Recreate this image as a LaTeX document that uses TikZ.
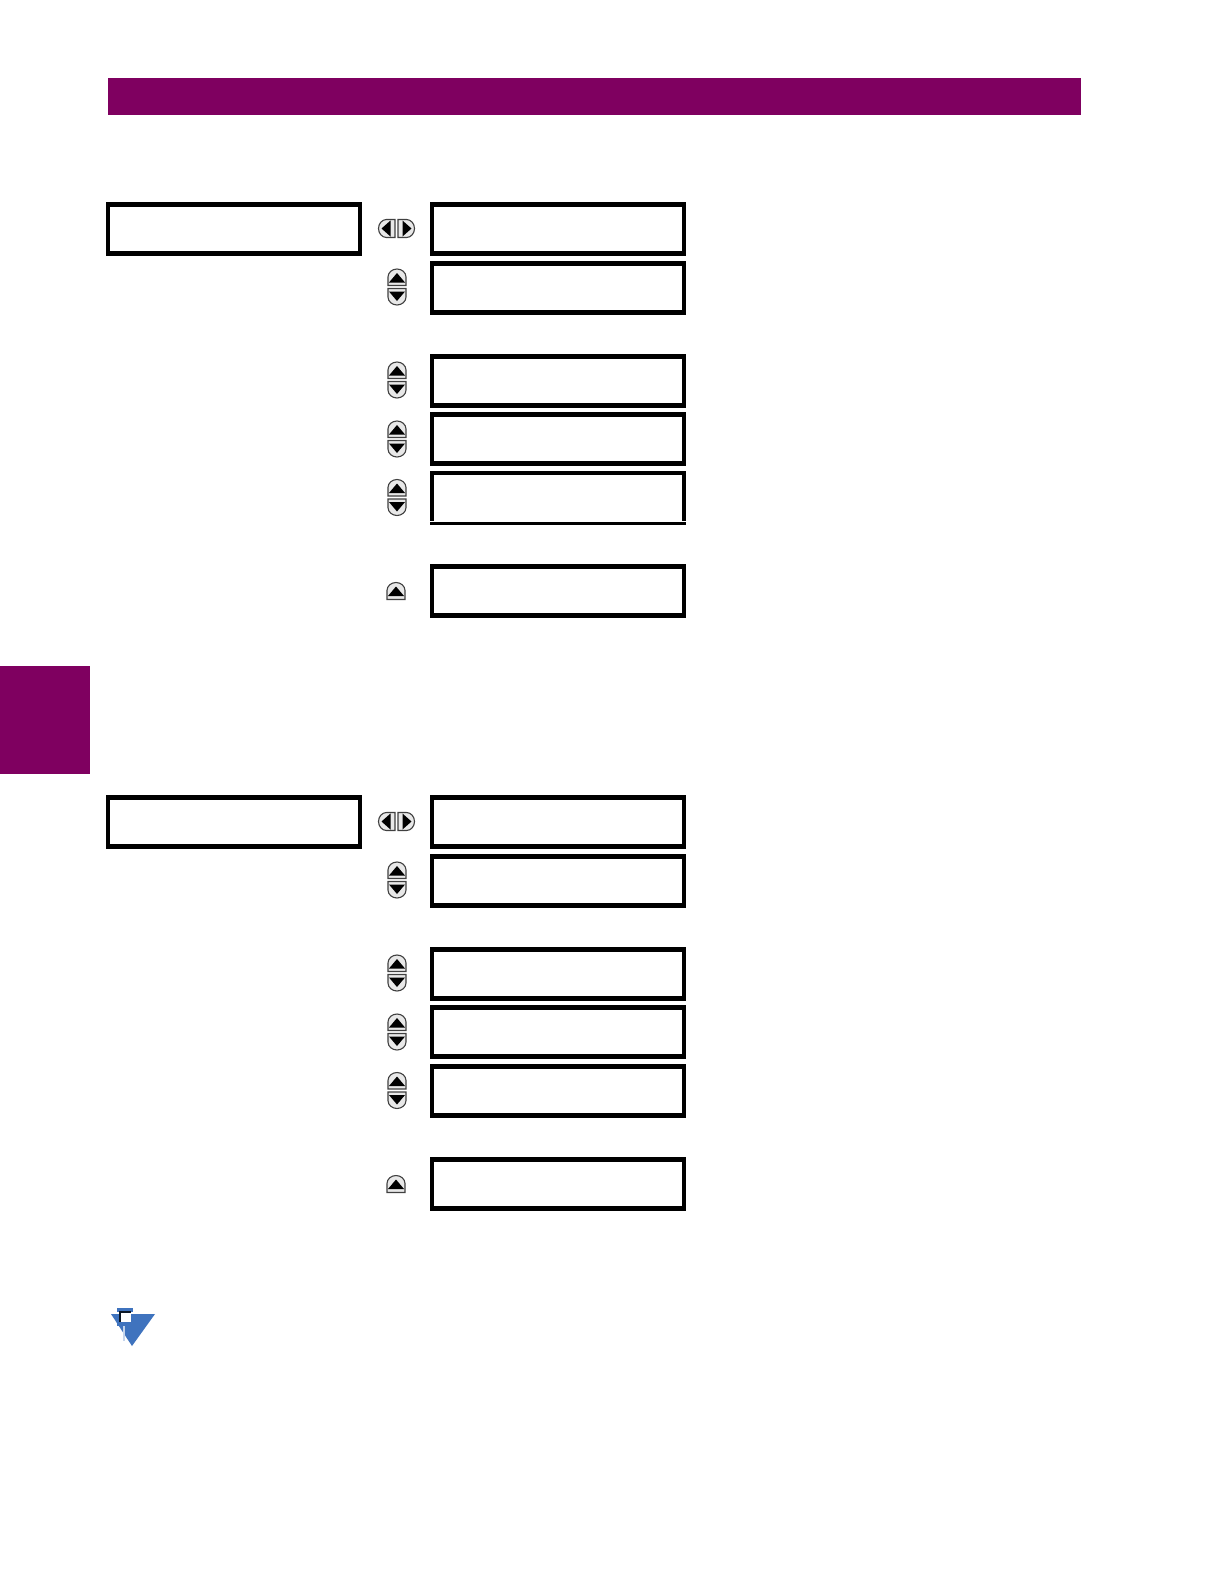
\documentclass[tikz,border=0pt]{standalone}
\definecolor{band}{HTML}{7F0060}
\definecolor{keygray}{HTML}{E8E8E8}
\definecolor{pinblue}{HTML}{3F73BE}
\tikzset{
  lcd/.style={draw=black,line width=2.2bp,fill=white,minimum width=126bp,minimum height=24.5bp,inner sep=0pt,outer sep=0pt,anchor=north west},
  key/.style={fill=keygray,draw=black!75,line width=.55bp},
  tri/.style={fill=black,draw=none},
  pics/updown/.style={code={
    \draw[key] (-9,-1.5) -- (-9,-10) arc[start angle=180,end angle=360,x radius=9,y radius=8] -- (9,-1.5) -- cycle;
    \fill[tri] (-8,-4.5) -- (0,-14) -- (8,-4.5) -- cycle;
    \draw[key] (-9,1.5) -- (-9,10) arc[start angle=180,end angle=0,x radius=9,y radius=8] -- (9,1.5) -- cycle;
    \fill[tri] (-8,4.5) -- (0,14) -- (8,4.5) -- cycle;
  }},
  pics/leftright/.style={code={
    \draw[key] (-1.5,-9) -- (-10,-9) arc[start angle=270,end angle=90,x radius=8,y radius=9] -- (-1.5,9) -- cycle;
    \fill[tri] (-6,-8) -- (-15,0) -- (-6,8) -- cycle;
    \draw[key] (1.5,-9) -- (10,-9) arc[start angle=270,end angle=450,x radius=8,y radius=9] -- (1.5,9) -- cycle;
    \fill[tri] (6,-8) -- (15,0) -- (6,8) -- cycle;
  }},
  pics/uponly/.style={code={
    \draw[key] (-9,9) -- (-9,0) arc[start angle=180,end angle=360,x radius=9,y radius=8] -- (9,9) -- cycle;
    \fill[tri] (-8,5.5) -- (0,-4) -- (8,5.5) -- cycle;
  }}
}
\begin{document}
\begin{tikzpicture}[x=0.5bp,y=-0.5bp]
\useasboundingbox (0,0) rectangle (1224,1584);
\fill[white] (0,0) rectangle (1224,1584);
\fill[band] (108,78) rectangle (1081,115);
\fill[band] (0,666) rectangle (90,774);
% first group
\node[lcd] (h1) at (108,204.5) {};
\node[lcd] (a1) at (432,204.5) {};
\node[lcd] (a2) at (432,263.5) {};
\node[lcd] (a3) at (432,356.5) {};
\node[lcd] (a4) at (432,414.5) {};
\node[lcd] (a6) at (432,566.5) {};
% fifth box, bottom rule detached
\fill[black] (430,471) rectangle (686,475);
\fill[black] (430,471) rectangle (434,521);
\fill[black] (682,471) rectangle (686,521);
\fill[black] (430,522) rectangle (686,525);
% second group
\node[lcd] (h2) at (108,797.5) {};
\node[lcd] (b1) at (432,797.5) {};
\node[lcd] (b2) at (432,856.5) {};
\node[lcd] (b3) at (432,949.5) {};
\node[lcd] (b4) at (432,1007.5) {};
\node[lcd] (b5) at (432,1066.5) {};
\node[lcd] (b6) at (432,1159.5) {};
% keys
\pic at (396.5,228.5) {leftright};
\pic at (397,287) {updown};
\pic at (397,380) {updown};
\pic at (397,439) {updown};
\pic at (397,497.5) {updown};
\pic at (396,590.5) {uponly};
\pic at (396.5,821.5) {leftright};
\pic at (397,880) {updown};
\pic at (397,973) {updown};
\pic at (397,1032) {updown};
\pic at (397,1090.5) {updown};
\pic at (396,1183.5) {uponly};
% note icon
\fill[pinblue] (111,1314) -- (155,1314) -- (132,1346) -- cycle;
\draw[white!70!pinblue,line width=.9bp] (124,1326) -- (124,1341);
\fill[pinblue] (117,1308) rectangle (133,1312);
\fill[pinblue] (117,1322) rectangle (133,1326);
\fill[white] (120,1312) rectangle (131,1322);
\draw[black!80!pinblue,line width=.9bp] (120,1322) -- (120,1312) -- (131,1312);
\end{tikzpicture}
\end{document}
